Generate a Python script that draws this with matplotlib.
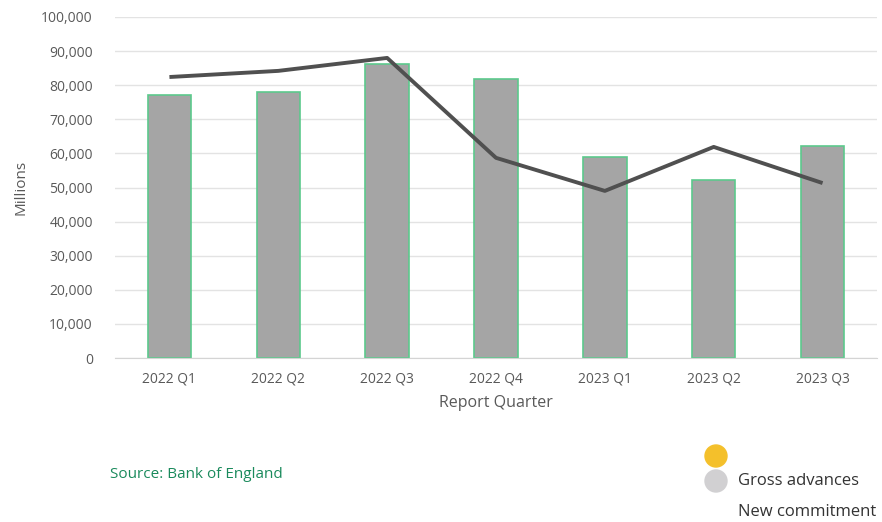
import numpy as np
import matplotlib.pyplot as plt
from matplotlib.patches import Ellipse
from matplotlib.ticker import FuncFormatter

# Data (millions)
quarters = ["2022 Q1", "2022 Q2", "2022 Q3", "2022 Q4", "2023 Q1", "2023 Q2", "2023 Q3"]
gross_advances = [77100, 78000, 86200, 81800, 58900, 52200, 62200]
new_commitment = [82400, 84200, 88000, 58700, 49000, 61900, 51300]

plt.rcParams['font.family'] = ['Open Sans', 'DejaVu Sans']

W, H = 882, 522
fig = plt.figure(figsize=(W/100, H/100), dpi=100)
ax = fig.add_axes([115/W, 1-358/H, 762/W, 341/H])

x = np.arange(len(quarters))
ax.bar(x, gross_advances, width=0.4, color="#a5a5a5", edgecolor="#5cc98c", linewidth=1.2, zorder=2)
ax.plot(x, new_commitment, color="#505050", linewidth=2.8, zorder=3, solid_capstyle="butt")

ax.set_xlim(-0.5, len(quarters) - 0.5)
ax.set_ylim(0, 100000)
ax.set_yticks(np.arange(0, 100001, 10000))
ax.yaxis.set_major_formatter(FuncFormatter(lambda v, p: f"{int(v):,}"))
ax.set_xticks(x)
ax.set_xticklabels(quarters)
ax.grid(axis="y", color="#e3e3e3", linewidth=1, zorder=0)
for s in ["top", "right", "left"]:
    ax.spines[s].set_visible(False)
ax.spines["bottom"].set_color("#d4d4d4")
ax.tick_params(length=0, colors="#595959", labelsize=10)
ax.tick_params(axis="x", pad=10)
ax.tick_params(axis="y", pad=16)
ax.set_xlabel("Report Quarter", color="#595959", fontsize=11.5, labelpad=6)
ax.set_ylabel("Millions", color="#595959", fontsize=11, labelpad=9)

# Source and the loose legend below the chart
fig.text(110/W, 1-474/H, "Source: Bank of England", color="#1a8a5c", fontsize=11, va="center")
for cy, col in [(456, "#f4c02b"), (481, "#d1d0d2")]:
    fig.patches.append(Ellipse((716/W, 1-cy/H), 22/W, 22/H, transform=fig.transFigure,
                               color=col, figure=fig))
fig.text(738/W, 1-481/H, "Gross advances", color="#333333", fontsize=12, va="center")
fig.text(738/W, 1-512/H, "New commitment", color="#333333", fontsize=12, va="center")

fig.savefig("out.png", dpi=100)
